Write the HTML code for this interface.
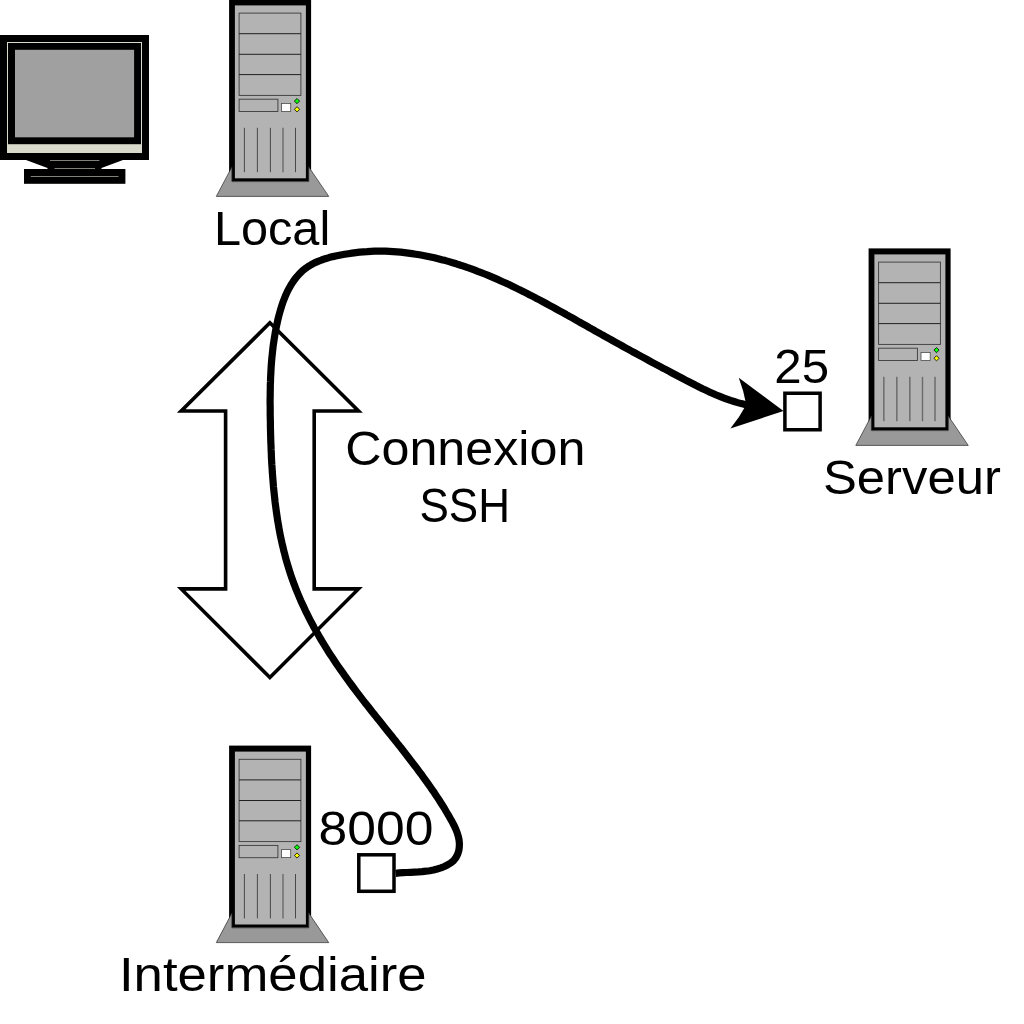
<!DOCTYPE html>
<html lang="fr">
<head>
<meta charset="utf-8">
<title>Connexion SSH - redirection de port</title>
<style>
html,body{margin:0;padding:0;background:#ffffff;}
body{width:1024px;height:1024px;overflow:hidden;font-family:"Liberation Sans",sans-serif;}
svg{display:block;position:absolute;left:0;top:0;will-change:transform;}
text{font-family:"Liberation Sans",sans-serif;fill:#000;}
</style>
</head>
<body>
<svg width="1024" height="1024" viewBox="0 0 1024 1024">
<defs>
<g id="tower">
  <rect x="229.1" y="-0.6" width="82" height="182.2" fill="#000"/>
  <rect x="234.9" y="5.4" width="71" height="172.9" fill="#b3b3b3"/>
  <path d="M216.3,196.4 L231.9,166.9 L231.9,181.6 L308.75,181.6 L308.75,166.9 L328.75,196.4 Z" fill="#999999" stroke="#2a2a2a" stroke-width="0.7"/>
  <rect x="239.1" y="13.1" width="61.8" height="82.3" fill="none" stroke="#3a3a3a" stroke-width="0.9"/>
  <path d="M239.1,33.7 H300.9 M239.1,54.3 H300.9 M239.1,74.6 H300.9" stroke="#111" stroke-width="0.9" fill="none"/>
  <rect x="239.1" y="99.2" width="38.8" height="12.3" fill="none" stroke="#3a3a3a" stroke-width="0.9"/>
  <rect x="281.5" y="103.4" width="9.2" height="8" fill="#fff" stroke="#4a4a4a" stroke-width="0.8"/>
  <path d="M297,98.5 L299.6,101.1 L297,103.7 L294.4,101.1 Z" fill="#00ff00" stroke="#000" stroke-width="0.8"/>
  <path d="M297,106.7 L299.6,109.3 L297,111.9 L294.4,109.3 Z" fill="#ffff00" stroke="#000" stroke-width="0.8"/>
  <path d="M244.4,127.8 V172.2 M257.4,127.8 V172.2 M270.4,127.8 V172.2 M295.5,127.8 V172.2" stroke="#3c3c3c" stroke-width="0.9" fill="none"/>
  <path d="M283,127.8 V172.2" stroke="#6a6a6a" stroke-width="1.4" fill="none"/>
</g>
</defs>

<!-- monitor -->
<g id="monitor">
  <rect x="0" y="35" width="149" height="125" fill="#000"/>
  <rect x="7" y="42" width="135" height="111" fill="#d9d9cc"/>
  <rect x="8" y="43" width="133" height="101.2" fill="#000"/>
  <rect x="15" y="49.8" width="119.1" height="87.5" fill="#a0a0a0"/>
  <path d="M26,160 L123,160 L101.5,168 L101.5,169 L47.5,169 L47.5,168 Z" fill="#000"/>
  <rect x="24" y="169" width="101.4" height="14.8" fill="#000"/>
  <path d="M50,160.5 H99.4 M54.5,168.5 H95 M30.8,176.5 H118.5" stroke="#d9d9cc" stroke-width="0.6" fill="none"/>
</g>

<use href="#tower"/>
<use href="#tower" transform="translate(639.5,249)"/>
<use href="#tower" transform="translate(0,746.2)"/>

<!-- double arrow -->
<path d="M269.9,322.8 L181.2,411 L225.6,411 L225.6,588.9 L181.2,588.9 L269.9,677.5 L358.5,588.9 L314.2,588.9 L314.2,411 L358.5,411 Z" fill="#fff" stroke="#000" stroke-width="3.6" stroke-miterlimit="10"/>

<!-- port boxes -->
<rect x="358.8" y="854.8" width="35.2" height="36.5" fill="#fff" stroke="#000" stroke-width="3.5"/>
<rect x="784.9" y="393.25" width="35.2" height="36.5" fill="#fff" stroke="#000" stroke-width="3.5"/>

<!-- tunnel curve -->
<path id="tunnel" d="M395.7,873.3 L399.3,872.9 L403.0,872.7 L406.8,872.5 L410.6,872.3 L414.4,872.1 L418.3,871.9 L422.1,871.6 L425.9,871.2 L429.7,870.7 L433.5,870.0 L437.2,869.0 L440.9,867.9 L444.4,866.5 L447.8,864.8 L451.0,862.8 L453.8,860.4 L456.0,857.5 L457.7,854.2 L458.8,850.7 L459.3,847.0 L459.4,843.3 L459.0,839.6 L458.2,836.0 L457.1,832.5 L455.7,829.0 L454.1,825.5 L452.3,822.1 L450.4,818.7 L448.5,815.3 L446.5,812.0 L444.6,808.7 L442.6,805.5 L440.5,802.2 L438.5,799.0 L436.4,795.9 L434.3,792.7 L432.1,789.6 L430.0,786.5 L427.8,783.4 L425.6,780.3 L423.4,777.3 L421.2,774.2 L418.9,771.2 L416.7,768.2 L414.4,765.2 L412.1,762.2 L409.8,759.2 L407.5,756.2 L405.2,753.3 L402.9,750.3 L400.6,747.3 L398.2,744.4 L395.9,741.4 L393.5,738.5 L391.2,735.5 L388.8,732.6 L386.5,729.7 L384.1,726.7 L381.8,723.8 L379.4,720.8 L377.0,717.9 L374.7,714.9 L372.3,712.0 L370.0,709.0 L367.7,706.0 L365.3,703.1 L363.0,700.1 L360.7,697.1 L358.4,694.1 L356.1,691.1 L353.8,688.0 L351.6,685.0 L349.3,682.0 L347.1,678.9 L344.9,675.8 L342.7,672.7 L340.5,669.6 L338.3,666.5 L336.2,663.4 L334.1,660.2 L332.0,657.1 L329.9,653.9 L327.8,650.7 L325.8,647.4 L323.8,644.2 L321.8,640.9 L319.9,637.6 L318.0,634.3 L316.1,631.0 L314.2,627.7 L312.4,624.3 L310.6,621.0 L308.9,617.6 L307.2,614.2 L305.5,610.8 L303.9,607.3 L302.3,603.9 L300.7,600.4 L299.2,596.9 L297.8,593.5 L296.3,589.9 L295.0,586.4 L293.6,582.9 L292.3,579.3 L291.1,575.8 L289.9,572.2 L288.8,568.6 L287.7,565.0 L286.6,561.4 L285.6,557.8 L284.7,554.1 L283.7,550.5 L282.9,546.8 L282.0,543.1 L281.2,539.4 L280.4,535.8 L279.7,532.1 L279.0,528.3 L278.4,524.6 L277.7,520.9 L277.2,517.2 L276.6,513.4 L276.1,509.7 L275.6,505.9 L275.1,502.2 L274.7,498.4 L274.3,494.6 L273.9,490.9 L273.5,487.1 L273.2,483.3 L272.9,479.5 L272.6,475.7 L272.3,471.9 L272.1,468.1 L271.8,464.3 L271.6,460.6 L271.4,456.8 L271.3,453.0 L271.1,449.2 L271.0,445.4 L270.8,441.6 L270.7,437.8 L270.6,434.0 L270.5,430.2 L270.4,426.4 L270.4,422.6 L270.3,418.8 L270.2,415.1 L270.2,411.3 L270.2,407.5 L270.1,403.8 L270.1,400.0 L270.2,396.2 L270.2,392.5 L270.3,388.7 L270.3,384.9 L270.5,381.2 L270.6,377.4 L270.8,373.7 L271.0,369.9 L271.2,366.1 L271.5,362.4 L271.8,358.6 L272.2,354.9 L272.6,351.1 L273.0,347.3 L273.5,343.6 L274.1,339.8 L274.7,336.0 L275.3,332.3 L276.0,328.5 L276.8,324.7 L277.6,320.9 L278.5,317.1 L279.5,313.4 L280.6,309.6 L281.7,305.9 L282.9,302.3 L284.3,298.7 L285.7,295.2 L287.3,291.7 L289.0,288.4 L290.8,285.2 L292.8,282.1 L294.9,279.1 L297.2,276.3 L299.6,273.6 L302.2,271.1 L305.0,268.7 L308.0,266.6 L311.1,264.7 L314.5,262.9 L318.0,261.4 L321.6,260.0 L325.3,258.7 L329.1,257.6 L332.9,256.6 L336.8,255.8 L340.7,255.0 L344.6,254.3 L348.4,253.7 L352.1,253.1 L355.9,252.6 L359.6,252.2 L363.4,251.8 L367.1,251.6 L370.8,251.3 L374.5,251.2 L378.2,251.1 L381.9,251.2 L385.7,251.2 L389.4,251.4 L393.2,251.6 L397.0,251.9 L400.7,252.2 L404.5,252.6 L408.3,253.1 L412.0,253.6 L415.8,254.2 L419.5,254.8 L423.3,255.5 L427.0,256.2 L430.7,257.0 L434.4,257.8 L438.1,258.7 L441.8,259.7 L445.5,260.6 L449.1,261.6 L452.7,262.7 L456.3,263.8 L459.9,265.0 L463.5,266.1 L467.1,267.4 L470.7,268.6 L474.2,269.9 L477.7,271.3 L481.2,272.6 L484.8,274.0 L488.2,275.4 L491.7,276.9 L495.2,278.4 L498.7,279.9 L502.1,281.5 L505.6,283.0 L509.0,284.6 L512.4,286.2 L515.8,287.9 L519.2,289.6 L522.6,291.2 L526.0,292.9 L529.4,294.7 L532.8,296.4 L536.1,298.2 L539.5,299.9 L542.9,301.7 L546.2,303.5 L549.5,305.3 L552.9,307.2 L556.2,309.0 L559.5,310.8 L562.9,312.7 L566.2,314.5 L569.5,316.4 L572.8,318.2 L576.1,320.1 L579.4,322.0 L582.7,323.8 L586.0,325.7 L589.3,327.6 L592.6,329.4 L595.9,331.3 L599.2,333.1 L602.5,335.0 L605.8,336.8 L609.1,338.7 L612.4,340.5 L615.7,342.3 L619.0,344.2 L622.3,346.0 L625.6,347.8 L628.9,349.6 L632.2,351.5 L635.6,353.3 L638.9,355.1 L642.2,356.9 L645.5,358.7 L648.8,360.5 L652.1,362.3 L655.5,364.1 L658.8,365.9 L662.1,367.7 L665.5,369.4 L668.8,371.2 L672.1,373.0 L675.5,374.8 L678.8,376.5 L682.2,378.3 L685.6,380.1 L688.9,381.8 L692.3,383.5 L695.7,385.3 L699.1,387.0 L702.5,388.7 L706.0,390.3 L709.4,391.9 L712.9,393.5 L716.3,395.0 L719.8,396.4 L723.4,397.8 L726.9,399.1 L730.5,400.4 L734.1,401.5 L737.7,402.6 L741.3,403.6 L745.0,404.5 L748.7,405.2 L752.5,405.9 L756.3,406.5 L760.1,406.9" fill="none" stroke="#000" stroke-width="7.2" stroke-linejoin="round"/>
<path d="M783.5,411 L738.75,377.75 Q743.9,391 746.25,404.75 Q739.5,417.5 730.4,428.5 Z" fill="#000"/>

<!-- labels -->
<g id="labels">
<text x="213.95" y="244.75" font-size="47.90" textLength="116.27" lengthAdjust="spacingAndGlyphs">Local</text>
<text x="345.25" y="464.60" font-size="47.90" textLength="240.10" lengthAdjust="spacingAndGlyphs">Connexion</text>
<text x="419.50" y="521.90" font-size="47.90" textLength="90.47" lengthAdjust="spacingAndGlyphs">SSH</text>
<text x="823.00" y="493.80" font-size="47.90" textLength="177.81" lengthAdjust="spacingAndGlyphs">Serveur</text>
<text x="118.95" y="990.90" font-size="47.90" textLength="307.67" lengthAdjust="spacingAndGlyphs">Intermédiaire</text>
<text x="318.50" y="844.50" font-size="47.90" textLength="114.86" lengthAdjust="spacingAndGlyphs">8000</text>
<text x="774.30" y="382.80" font-size="47.90" textLength="54.79" lengthAdjust="spacingAndGlyphs">25</text>
</g>
</svg>
</body>
</html>
